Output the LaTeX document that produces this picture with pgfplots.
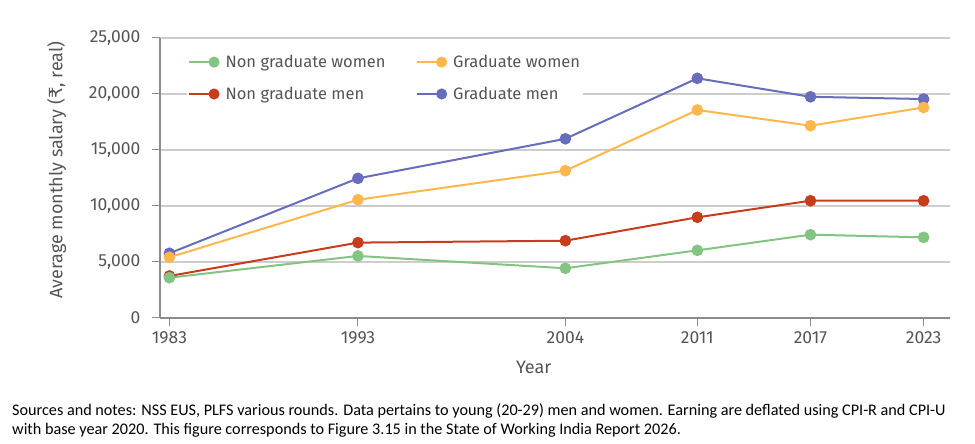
\documentclass[border=0pt]{standalone}
\usepackage{fontspec}
\usepackage{pgfplots}
\pgfplotsset{compat=1.18}
\setmainfont{Fira Sans}
\newfontfamily\notefont{Carlito}
\newfontfamily\rupeefont{DejaVu Sans}
\definecolor{cgreen}{RGB}{130,196,130}
\definecolor{corange}{RGB}{253,183,77}
\definecolor{cred}{RGB}{200,60,30}
\definecolor{cblue}{RGB}{104,108,188}
\definecolor{spine}{RGB}{140,140,140}
\definecolor{gridc}{RGB}{205,205,205}
\definecolor{txt}{RGB}{85,85,85}
\begin{document}
\begin{tikzpicture}
\useasboundingbox (-160pt,-126pt) rectangle (815pt,318pt);
\begin{axis}[
  scale only axis, width=790pt, height=280pt,
  xmin=1982.5, xmax=2024.4, ymin=0, ymax=25000,
  axis x line*=bottom, axis y line*=left,
  axis line style={spine, line width=1.3pt},
  xtick={1983,1993,2004,2011,2017,2023},
  ytick={0,5000,10000,15000,20000,25000},
  scaled y ticks=false,
  tick style={spine, line width=1pt},
  tick align=outside, major tick length=8pt,
  ymajorgrids, grid style={gridc, line width=1.5pt},
  /pgf/number format/assume math mode=true,
  xticklabel style={/pgf/number format/1000 sep={}, yshift=-2pt},
  yticklabel style={/pgf/number format/1000 sep={,}, xshift=-8pt},
  ticklabel style={font=\fontsize{17.5}{20}\selectfont, text=txt},
  xlabel={Year},
  xlabel style={font=\fontsize{18}{21}\selectfont, text=txt, at={(axis description cs:0.473,0)}, anchor=north, yshift=-40pt},
  ylabel={Average monthly salary ({\rupeefont ₹}, real)},
  ylabel style={font=\fontsize{18}{21}\selectfont, text=txt, yshift=16pt, xshift=8pt},
  legend columns=2,
  legend style={at={(rel axis cs:0.034,0.95)}, anchor=north west, draw=none, fill=white,
    font=\fontsize{16.5}{19}\selectfont, text=txt, row sep=14pt, inner sep=1pt,
    /tikz/every odd column/.append style={column sep=4pt},
    /tikz/every even column/.append style={column sep=28pt}},
  legend cell align=left,
  legend image code/.code={\draw[line width=2pt, mark=none] (0pt,0pt) -- (25pt,0pt); \fill (25pt,0pt) circle (4.5pt);},
  every axis plot/.append style={line width=2pt, mark=*, mark size=4.8pt},
  clip=false,
]
\addlegendimage{cgreen}
\addlegendentry{Non graduate women}
\addlegendimage{corange}
\addlegendentry{Graduate women}
\addlegendimage{cred}
\addlegendentry{Non graduate men}
\addlegendimage{cblue}
\addlegendentry{Graduate men}

\addplot[cblue, forget plot] coordinates {(1983,5780) (1993,12470) (2004,16000) (2011,21400) (2017,19750) (2023,19550)};
\addplot[corange, forget plot] coordinates {(1983,5420) (1993,10560) (2004,13150) (2011,18570) (2017,17170) (2023,18800)};
\addplot[cred, forget plot] coordinates {(1983,3750) (1993,6730) (2004,6900) (2011,8990) (2017,10470) (2023,10470)};
\addplot[cgreen, forget plot] coordinates {(1983,3600) (1993,5540) (2004,4440) (2011,6040) (2017,7440) (2023,7200)};
\end{axis}
\node[anchor=base west, inner sep=0pt, align=left, font=\notefont\fontsize{16.2}{19.5}\selectfont] at (-148pt,-117pt)
  {Sources and notes: NSS EUS, PLFS various rounds. Data pertains to young (20-29) men and women. Earning are deflated using CPI-R and CPI-U\\
   with base year 2020. This figure corresponds to Figure 3.15 in the State of Working India Report 2026.};
\end{tikzpicture}
\end{document}
